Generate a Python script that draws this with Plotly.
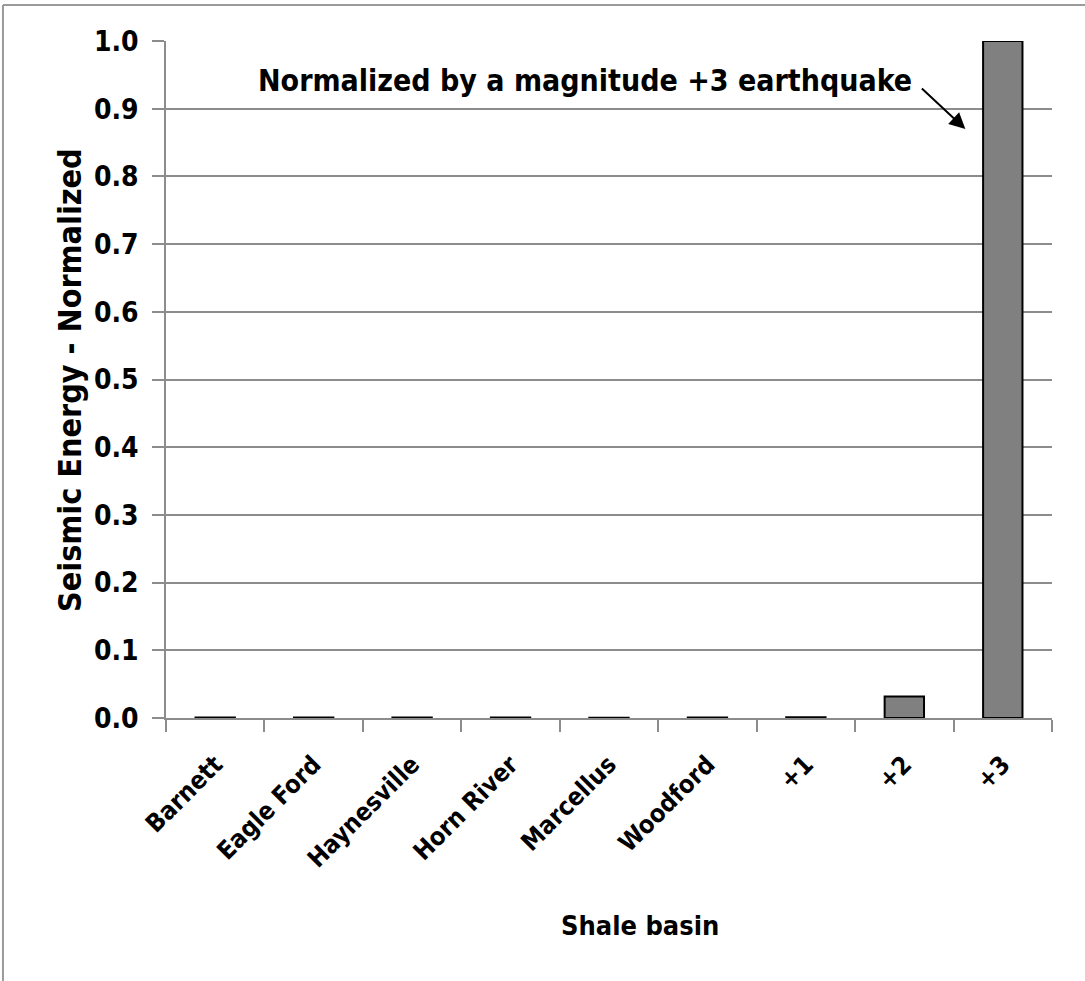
import plotly.graph_objects as go

categories = ["Barnett", "Eagle Ford", "Haynesville", "Horn River", "Marcellus", "Woodford", "+1", "+2", "+3"]
energy_norm = [0.0008, 0.0006, 0.0007, 0.0009, 0.0005, 0.0006, 0.001, 0.0316, 1.0]
y_ticks = [0.0, 0.1, 0.2, 0.3, 0.4, 0.5, 0.6, 0.7, 0.8, 0.9, 1.0]

FONT = "Liberation Sans Narrow, DejaVu Sans Condensed, Arial Narrow, Liberation Sans, sans-serif"

fig = go.Figure()
fig.add_trace(go.Bar(
    x=categories, y=energy_norm,
    marker=dict(color="#808080", line=dict(color="#000000", width=2)),
))

fig.update_layout(
    width=1085, height=981,
    margin=dict(l=166, r=33, t=41, b=263),
    paper_bgcolor="white", plot_bgcolor="white",
    bargap=0.6, showlegend=False,
    font=dict(family=FONT, color="black", size=28),
    xaxis=dict(
        tickangle=-45, ticks="outside", tickson="boundaries", ticklen=12,
        tickcolor="#8c8c8c", tickwidth=1.5, ticklabelstandoff=20,
        showline=True, linecolor="#8c8c8c", linewidth=1.5,
        tickfont=dict(size=25), ticktext=["<b>%s</b>" % c for c in categories],
        tickvals=categories, showgrid=False,
    ),
    yaxis=dict(
        range=[0, 1.0], tickvals=y_ticks,
        ticktext=["<b>%.1f</b>" % v for v in y_ticks],
        ticks="outside", ticklen=12, tickcolor="#8c8c8c", tickwidth=1.5,
        ticklabelstandoff=8,
        showline=True, linecolor="#8c8c8c", linewidth=1.5,
        showgrid=True, gridcolor="#8c8c8c", gridwidth=1.5,
        tickfont=dict(size=28), zeroline=False,
    ),
)

# axis titles
fig.add_annotation(
    x=-0.109, y=0.5, xref="paper", yref="paper", textangle=-90,
    text="<b>Seismic Energy - Normalized</b>", showarrow=False,
    font=dict(size=32, color="black"), xanchor="center", yanchor="middle",
)
fig.add_annotation(
    x=0.535, y=-0.306, xref="paper", yref="paper",
    text="<b>Shale basin</b>", showarrow=False,
    font=dict(size=27, color="black"), xanchor="center", yanchor="middle",
)

fig.add_annotation(
    x=3.76, y=0.941, xref="x", yref="y",
    text="<b>Normalized by a magnitude +3 earthquake</b>",
    showarrow=False, font=dict(size=30, color="black"),
)
fig.add_annotation(
    x=7.62, y=0.87, xref="x", yref="y", text="",
    showarrow=True, ax=-45, ay=-42, arrowhead=2, arrowsize=1.6, arrowwidth=2, arrowcolor="black",
)

# outer frame (top and left edges visible)
fig.add_shape(type="line", xref="paper", yref="paper",
              x0=-0.184, x1=1.06, y0=1.053, y1=1.053,
              line=dict(color="#9a9a9a", width=2))
fig.add_shape(type="line", xref="paper", yref="paper",
              x0=-0.184, x1=-0.184, y0=1.053, y1=-0.4,
              line=dict(color="#9a9a9a", width=2))

fig.write_html("out.html", config={"displayModeBar": False},
               post_script="document.body.style.margin='0';")
